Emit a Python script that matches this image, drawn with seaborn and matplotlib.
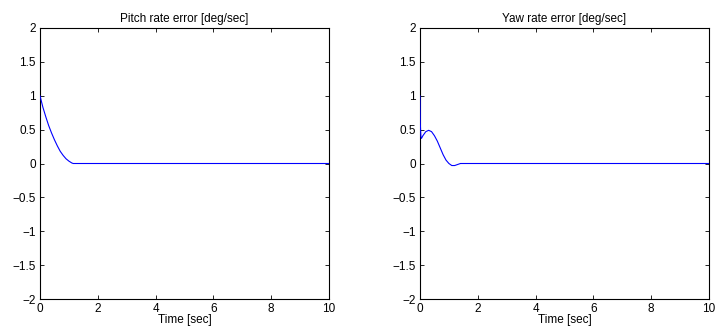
import numpy as np
import pandas as pd
import matplotlib
matplotlib.use("Agg")
import matplotlib.pyplot as plt
import seaborn as sns

# Pitch rate error [deg/sec]
pitch_t = [0.0, 0.1, 0.2, 0.3, 0.4, 0.5, 0.6, 0.7, 0.8, 0.9, 1.0, 1.1, 1.15, 2.0, 4.0, 6.0, 8.0, 10.0]
pitch_err = [1.0, 0.83, 0.69, 0.56, 0.45, 0.35, 0.26, 0.18, 0.12, 0.07, 0.035, 0.008, 0.0, 0.0, 0.0, 0.0, 0.0, 0.0]

# Yaw rate error [deg/sec]
yaw_t = [0.0, 0.01, 0.03, 0.05, 0.1, 0.2, 0.3, 0.4, 0.5, 0.6, 0.7, 0.8, 0.9, 1.0, 1.1, 1.2, 1.3, 1.4, 1.5, 10.0]
yaw_err = [1.0, 0.6, 0.4, 0.37, 0.41, 0.47, 0.49, 0.47, 0.41, 0.33, 0.23, 0.13, 0.05, 0.0, -0.03, -0.03, -0.015, 0.0, 0.0, 0.0]

titles = ["Pitch rate error [deg/sec]", "Yaw rate error [deg/sec]"]

sns.set_style("ticks", {"text.color": "black", "axes.labelcolor": "black",
                        "xtick.color": "black", "ytick.color": "black",
                        "axes.edgecolor": "black"})
plt.rcParams['font.family'] = ['Liberation Sans', 'DejaVu Sans']
plt.rcParams['font.size'] = 8.5

fig = plt.figure(figsize=(7.19, 3.36), dpi=100)
axes = [fig.add_axes([40 / 719, 37 / 336, 289 / 719, 271 / 336]),
        fig.add_axes([420 / 719, 37 / 336, 289 / 719, 271 / 336])]

data = [(pitch_t, pitch_err), (yaw_t, yaw_err)]
for ax, (t, e), title in zip(axes, data, titles):
    df = pd.DataFrame({"t": t, "e": e})
    sns.lineplot(data=df, x="t", y="e", ax=ax, color=(0, 0, 1), linewidth=0.8,
                 estimator=None, sort=False)
    # draw the curve above the frame so the spike at t=0 stays visible
    ax.lines[0].set_zorder(3)
    ax.set_xlim(0, 10)
    ax.set_ylim(-2, 2)
    ax.set_xticks(np.arange(0, 11, 2))
    ax.set_yticks(np.arange(-2, 2.01, 0.5))
    ax.set_yticklabels(["\u22122", "\u22121.5", "\u22121", "\u22120.5", "0", "0.5", "1", "1.5", "2"])
    ax.tick_params(direction="in", top=True, right=True, length=3, width=0.6,
                   labelsize=8.5, pad=3, colors="black")
    for s in ax.spines.values():
        s.set_linewidth(0.8)
        s.set_color("black")
        s.set_visible(True)
    ax.set_title(title, fontsize=8.5, pad=4, color="black")
    ax.set_xlabel("Time [sec]", fontsize=8.5, labelpad=-1, color="black")
    ax.set_ylabel("")

fig.savefig("out.png", dpi=100)
